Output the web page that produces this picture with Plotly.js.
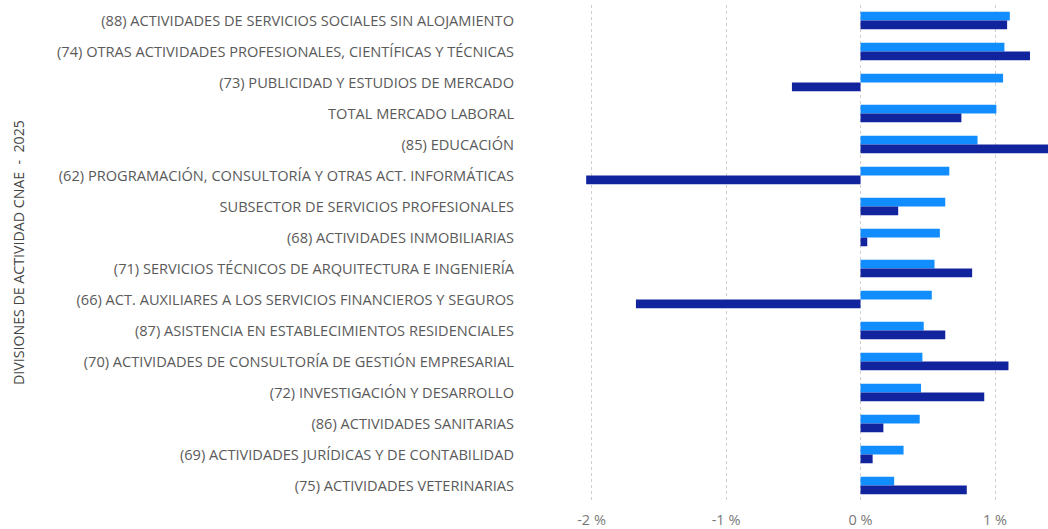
<!DOCTYPE html>
<html>
<head>
<meta charset="utf-8">
<script src="https://cdn.plot.ly/plotly-3.0.1.min.js"></script>
<style>html,body{margin:0;padding:0;background:#fff}#chart{width:1048px;height:529px}</style>
</head>
<body>
<div id="chart"></div>
<script>
const categories = [
  "(88) ACTIVIDADES DE SERVICIOS SOCIALES SIN ALOJAMIENTO",
  "(74) OTRAS ACTIVIDADES PROFESIONALES, CIENTÍFICAS Y TÉCNICAS",
  "(73) PUBLICIDAD Y ESTUDIOS DE MERCADO",
  "TOTAL MERCADO LABORAL",
  "(85) EDUCACIÓN",
  "(62) PROGRAMACIÓN, CONSULTORÍA Y OTRAS ACT. INFORMÁTICAS",
  "SUBSECTOR DE SERVICIOS PROFESIONALES",
  "(68) ACTIVIDADES INMOBILIARIAS",
  "(71) SERVICIOS TÉCNICOS DE ARQUITECTURA E INGENIERÍA",
  "(66) ACT. AUXILIARES A LOS SERVICIOS FINANCIEROS Y SEGUROS",
  "(87) ASISTENCIA EN ESTABLECIMIENTOS RESIDENCIALES",
  "(70) ACTIVIDADES DE CONSULTORÍA DE GESTIÓN EMPRESARIAL",
  "(72) INVESTIGACIÓN Y DESARROLLO",
  "(86) ACTIVIDADES SANITARIAS",
  "(69) ACTIVIDADES JURÍDICAS Y DE CONTABILIDAD",
  "(75) ACTIVIDADES VETERINARIAS"
];
// values in percent
const seriesLight = [1.11, 1.07, 1.06, 1.01, 0.87, 0.66, 0.63, 0.59, 0.55, 0.53, 0.47, 0.46, 0.45, 0.44, 0.32, 0.25];
const seriesDark  = [1.09, 1.26, -0.51, 0.75, 1.45, -2.04, 0.28, 0.05, 0.83, -1.67, 0.63, 1.10, 0.92, 0.17, 0.09, 0.79];
const tickValues = [-2, -1, 0, 1];
const tickLabels = ["-2 %", "-1 %", "0 %", "1 %"];
const axisTitle = "DIVISIONES DE ACTIVIDAD CNAE  -  2025";

const traces = [
  {type: "bar", orientation: "h", y: categories, x: seriesLight, marker: {color: "#118DFF"}, name: "Serie 1"},
  {type: "bar", orientation: "h", y: categories, x: seriesDark, marker: {color: "#12239E"}, name: "Serie 2"}
];

const layout = {
  width: 1048, height: 529,
  margin: {l: 520, r: 0, t: 5, b: 28, pad: 0},
  paper_bgcolor: "#fff", plot_bgcolor: "#fff",
  barmode: "group", bargap: 0.435, bargroupgap: 0,
  showlegend: false,
  font: {family: "Open Sans, Noto Sans, sans-serif", color: "#605E5C", size: 12},
  xaxis: {
    range: [-2.532, 1.394],
    tickvals: tickValues, ticktext: tickLabels,
    showgrid: true, gridcolor: "#CFCFCF", griddash: "dot", gridwidth: 1,
    zeroline: false, showline: false, ticks: "",
    ticklabelstandoff: 8,
    tickfont: {size: 14.5, color: "#7A7A7A"},
    fixedrange: true
  },
  yaxis: {
    type: "category", categoryorder: "array", categoryarray: categories,
    autorange: "reversed",
    showgrid: false, zeroline: false, showline: false, ticks: "",
    ticklabelstandoff: 5,
    tickfont: {size: 14.6, color: "#5A5A5A"},
    automargin: false
  },
  annotations: [{
    text: axisTitle, xref: "paper", yref: "paper", x: 0, y: 0.5,
    xanchor: "center", yanchor: "middle", xshift: -502, textangle: -90,
    showarrow: false, font: {size: 14.2, color: "#444444"}
  }]
};
Plotly.newPlot("chart", traces, layout, {displayModeBar: false, staticPlot: true});
</script>
</body>
</html>
